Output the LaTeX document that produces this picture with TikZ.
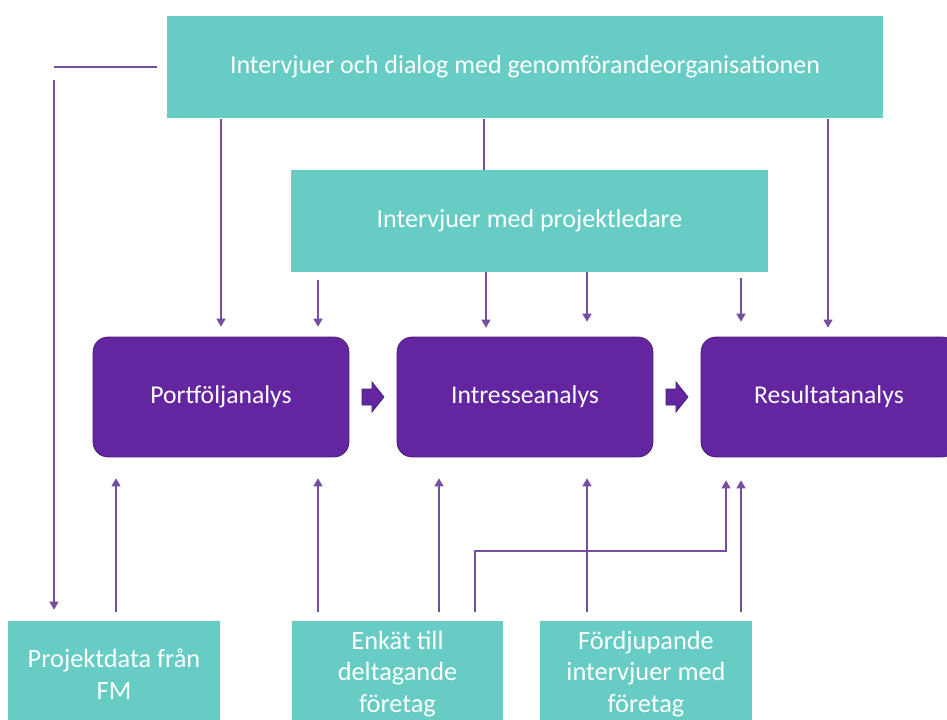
\documentclass[tikz,border=0pt]{standalone}
\usepackage{fontspec}
\setmainfont{Carlito}
\usetikzlibrary{arrows.meta,calc}
\definecolor{tealbox}{RGB}{102,204,196}
\definecolor{purplebox}{RGB}{99,37,160}
\definecolor{purpleline}{RGB}{118,78,160}
\tikzset{
  tbox/.style={rectangle,fill=tealbox,text=white,align=center,inner sep=0pt},            % input box
  pbox/.style={rectangle,rounded corners=0.3cm,fill=purplebox,draw=purplebox!75!black,
    text=white,minimum width=5.12cm,minimum height=2.4cm,font=\fontsize{14.6}{17}\selectfont}, % analysis step
  conn/.style={-{Triangle[length=1.6mm,width=1.8mm]},purpleline,line width=0.8pt},
  plain/.style={purpleline,line width=0.8pt},
  big/.style={font=\fontsize{14.8}{17}\selectfont},
  small/.style={font=\fontsize{15}{17.9}\selectfont,minimum width=4.24cm,minimum height=2.12cm},
}
\newcommand{\blockarrow}[1]{% centre point
  \filldraw[fill=purplebox,draw=purplebox!75!black] ($(#1)+(-11,-8)$) -- ($(#1)+(-1,-8)$) -- ($(#1)+(-1,-15)$)
    -- ($(#1)+(11,0)$) -- ($(#1)+(-1,15)$) -- ($(#1)+(-1,8)$) -- ($(#1)+(-11,8)$) -- cycle;
}

\begin{document}
\begin{tikzpicture}[x=0.02cm,y=-0.02cm]
  \useasboundingbox (0,0) rectangle (947,720);
  \clip (0,0) rectangle (947,720);

  % sources on top
  \node[tbox,big,minimum width=14.32cm,minimum height=2.06cm] (dialog) at (525,67) {Intervjuer och dialog med genomförandeorganisationen};
  \node[tbox,big,minimum width=9.54cm,minimum height=2.04cm] (pl) at (529.5,221) {Intervjuer med projektledare};

  % the three analyses
  \node[pbox] (portf) at (221,397) {Portföljanalys};
  \node[pbox] (intr) at (525,397) {Intresseanalys};
  \node[pbox] (res) at (829,397) {Resultatanalys};
  \coordinate (ba1) at ($(portf.east)!0.5!(intr.west)$);
  \coordinate (ba2) at ($(intr.east)!0.5!(res.west)$);
  \blockarrow{ba1}
  \blockarrow{ba2}

  % sources below
  \node[tbox,small] (fm) at (114,674) {Projektdata från\\FM};
  \node[tbox,small] (enk) at (397.5,674) {Enkät till\\deltagande\\företag};
  \node[tbox,small] (ford) at (646,674) {Fördjupande\\intervjuer med\\företag};

  % from the dialog box
  \coordinate (turn) at (54,67);
  \draw[plain] ($(dialog.west)+(-10,0)$) -- (turn);
  \draw[conn,shorten >=2.2mm] ($(turn)+(0,13)$) -- (fm.north -| turn);
  \draw[conn,shorten >=2mm] (dialog.south -| portf.north) -- (portf.north);
  \draw[plain] (dialog.south -| 484,0) -- (pl.north -| 484,0);
  \draw[conn,shorten >=1.8mm] (dialog.south -| 828,0) -- (res.north -| 828,0);

  % from the project leader interviews
  \draw[conn,shorten <=1.6mm,shorten >=2mm] (pl.south -| 318,0) -- (portf.north -| 318,0);
  \draw[conn,shorten >=1.8mm] (pl.south -| 486,0) -- (intr.north -| 486,0);
  \draw[conn,shorten >=3mm] (pl.south -| 587,0) -- (intr.north -| 587,0);
  \draw[conn,shorten <=1.2mm,shorten >=3mm] (pl.south -| 741,0) -- (res.north -| 741,0);

  % from below
  \draw[conn,shorten <=1.8mm,shorten >=4.2mm] (fm.north -| 116,0) -- (portf.south -| 116,0);
  \draw[conn,shorten <=1.8mm,shorten >=4.2mm] (enk.north -| 318,0) -- (portf.south -| 318,0);
  \draw[conn,shorten <=1.8mm,shorten >=4.2mm] (enk.north -| 439,0) -- (intr.south -| 439,0);
  \draw[conn,shorten <=1.8mm,shorten >=4.6mm] (enk.north -| 475,0) |- (726,551) -- (res.south -| 726,0);
  \draw[conn,shorten <=1.8mm,shorten >=4.2mm] (ford.north -| 587,0) -- (intr.south -| 587,0);
  \draw[conn,shorten <=1.8mm,shorten >=4.6mm] (ford.north -| 741,0) -- (res.south -| 741,0);
\end{tikzpicture}
\end{document}
